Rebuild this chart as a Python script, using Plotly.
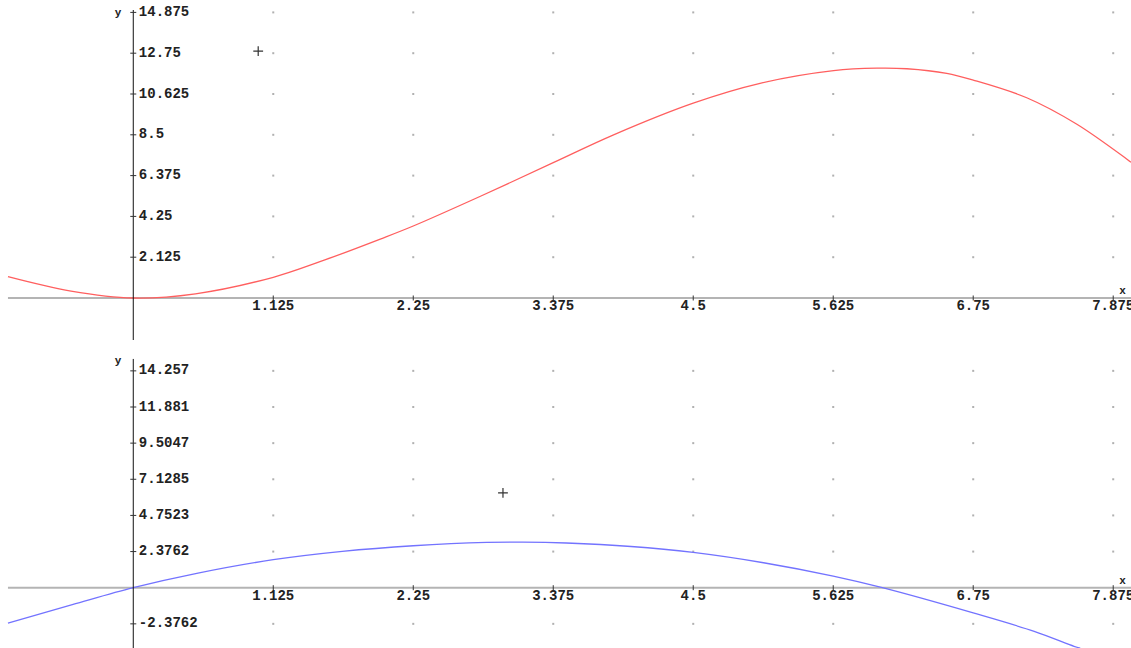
import plotly.graph_objects as go

# ---- data ----
red_x = [-1.007, -0.5, 0.0, 0.5, 1.125, 1.5, 1.985, 2.25, 2.79, 3.375, 3.86, 4.5,
         5.037, 5.628, 5.976, 6.217, 6.537, 6.75, 7.18, 7.58, 7.983, 8.018]
red_y = [1.11, 0.36, 0.0, 0.22, 1.08, 1.89, 3.07, 3.75, 5.3, 7.05, 8.5, 10.15,
         11.18, 11.84, 11.97, 11.94, 11.7, 11.35, 10.43, 9.06, 7.24, 7.07]

blue_x = [-1.007, -0.49, 0.0, 0.52, 1.125, 1.68, 2.25, 2.84, 3.13, 3.48, 4.0, 4.5,
          5.065, 5.625, 6.02, 6.75, 7.24, 7.56, 7.61]
blue_y = [-2.33, -1.12, 0.0, 0.96, 1.84, 2.39, 2.76, 2.98, 3.0, 2.94, 2.71, 2.32,
          1.64, 0.76, 0.0, -1.66, -2.87, -3.85, -3.97]

x_ticks = [1.125, 2.25, 3.375, 4.5, 5.625, 6.75, 7.875]
x_tick_labels = ["1.125", "2.25", "3.375", "4.5", "5.625", "6.75", "7.875"]

top_y_ticks = [2.125, 4.25, 6.375, 8.5, 10.625, 12.75, 14.875]
top_y_labels = ["2.125", "4.25", "6.375", "8.5", "10.625", "12.75", "14.875"]

bot_y_ticks = [-2.3762, 2.3762, 4.7523, 7.1285, 9.5047, 11.881, 14.257]
bot_y_labels = ["-2.3762", "2.3762", "4.7523", "7.1285", "9.5047", "11.881", "14.257"]

top_mark = (1.004, 12.86)
bot_mark = (2.971, 6.23)

# ---- layout constants ----
W, H = 1131, 648
XR = [-1.071, 8.018]
X_START = -1.007          # where drawing starts on the left
TOP_PX = 340
BOT_PX = 648 - 345
TOP_YR = [-42 / 19.2, 298 / 19.2]
BOT_YR = [-3.964, 15.957]
TOP_DOM = [1 - TOP_PX / H, 1]
BOT_DOM = [0, 1 - 345 / H]

FONT = dict(family="Liberation Mono, DejaVu Sans Mono, monospace", size=14, color="#222222", weight="bold")
GRID = "#b0b0b0"
AXIS_X = "#b4b4b4"

fig = go.Figure()

panels = [
    ("x", "y", TOP_YR, TOP_PX, top_y_ticks, top_y_labels, red_x, red_y, "rgb(255,95,95)", top_mark, 15.0),
    ("x2", "y2", BOT_YR, BOT_PX, bot_y_ticks, bot_y_labels, blue_x, blue_y, "rgb(115,115,255)", bot_mark, 15.04),
]

shapes = []
for xa, ya, yr, hpx, yt, yl, cx, cy, col, mark, ytop in panels:
    ypix = (yr[1] - yr[0]) / hpx
    # x axis line (grey)
    shapes.append(dict(type="line", xref=xa, yref=ya, x0=X_START, x1=XR[1], y0=0, y1=0,
                       line=dict(color=AXIS_X, width=2), layer="below"))
    # y axis line (black)
    shapes.append(dict(type="line", xref=xa, yref=ya, x0=0, x1=0, y0=yr[0], y1=ytop,
                       line=dict(color="#111111", width=1)))
    # y tick marks
    for t in yt:
        shapes.append(dict(type="line", xref=xa, yref=ya, xsizemode="pixel", xanchor=0,
                           x0=-3, x1=3, y0=t, y1=t, line=dict(color="#333333", width=1)))
    # x tick marks
    for t in x_ticks:
        shapes.append(dict(type="line", xref=xa, yref=ya, ysizemode="pixel", yanchor=0,
                           y0=-2.5, y1=2.5, x0=t, x1=t, line=dict(color="#333333", width=1)))

    # grid dots
    gx, gy = [], []
    for a in x_ticks:
        for b in yt:
            gx.append(a)
            gy.append(b)
    fig.add_trace(go.Scatter(x=gx, y=gy, xaxis=xa, yaxis=ya, mode="markers",
                             marker=dict(symbol="square", size=2, color=GRID),
                             hoverinfo="skip", showlegend=False))
    # curve
    fig.add_trace(go.Scatter(x=cx, y=cy, xaxis=xa, yaxis=ya, mode="lines",
                             line=dict(color=col, width=1.3, shape="spline", smoothing=1.0),
                             showlegend=False))
    # y tick labels
    fig.add_trace(go.Scatter(x=[0.045] * len(yt), y=yt, xaxis=xa, yaxis=ya, mode="text",
                             text=yl, textposition="middle right", textfont=FONT,
                             hoverinfo="skip", showlegend=False, cliponaxis=False))
    # x tick labels
    fig.add_trace(go.Scatter(x=x_ticks, y=[-8.5 * ypix] * len(x_ticks), xaxis=xa, yaxis=ya,
                             mode="text", text=x_tick_labels, textposition="middle center",
                             textfont=FONT, hoverinfo="skip", showlegend=False))
    # axis names
    fig.add_trace(go.Scatter(x=[-0.123, 7.95], y=[ytop - 0.15, 6.5 * ypix], xaxis=xa, yaxis=ya,
                             mode="text", text=["y", "x"], textposition="middle center",
                             textfont=dict(FONT, size=11), hoverinfo="skip", showlegend=False))
    # cursor mark
    fig.add_trace(go.Scatter(x=[mark[0]], y=[mark[1]], xaxis=xa, yaxis=ya, mode="markers",
                             marker=dict(symbol="cross-thin", size=7, line=dict(color="#333333", width=1.2)),
                             hoverinfo="skip", showlegend=False))

hidden = dict(visible=False, showgrid=False, zeroline=False, fixedrange=True)
fig.update_layout(
    width=W, height=H,
    margin=dict(l=0, r=0, t=0, b=0),
    paper_bgcolor="white", plot_bgcolor="white",
    showlegend=False,
    hovermode=False,
    xaxis=dict(hidden, domain=[0, 1], range=XR, anchor="y"),
    yaxis=dict(hidden, domain=TOP_DOM, range=TOP_YR, anchor="x"),
    xaxis2=dict(hidden, domain=[0, 1], range=XR, anchor="y2"),
    yaxis2=dict(hidden, domain=BOT_DOM, range=BOT_YR, anchor="x2"),
    shapes=shapes,
)

fig.write_html(
    "out.html",
    config={"displayModeBar": False, "staticPlot": True},
    post_script="document.body.style.margin='0';document.body.style.overflow='hidden';",
)
